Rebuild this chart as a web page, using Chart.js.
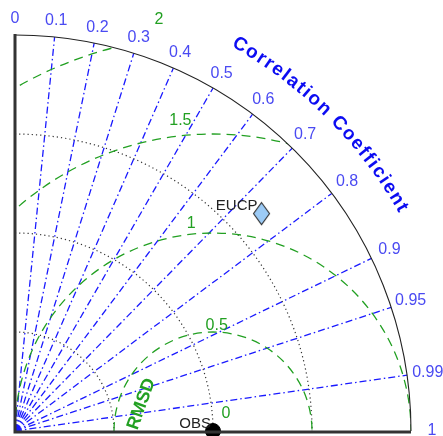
<!DOCTYPE html>
<html>
<head>
<meta charset="utf-8">
<script src="https://cdn.jsdelivr.net/npm/chart.js@4/dist/chart.umd.min.js"></script>
<style>
  html, body { margin: 0; padding: 0; background: #fff; }
  canvas { display: block; }
</style>
</head>
<body>
<canvas id="taylor" width="443" height="436"></canvas>
<script>
// Taylor diagram: standard deviation (radius) vs. correlation (angle)
const corrTicks = [0, 0.1, 0.2, 0.3, 0.4, 0.5, 0.6, 0.7, 0.8, 0.9, 0.95, 0.99, 1];
const corrTickLabels = ['0', '0.1', '0.2', '0.3', '0.4', '0.5', '0.6', '0.7', '0.8', '0.9', '0.95', '0.99', '1'];
const stdArcs = [0.5, 1, 1.5];
const stdMax = 2;
const rmsdLevels = [0.5, 1, 1.5, 2];
const rmsdLabels = ['0.5', '1', '1.5', '2'];
const refName = 'OBS';
const refStd = 1;
const modelNames = ['EUCP'];
const modelStd = [1.66];
const modelCorr = [0.75];

const BLUE_LINE = '#1a1aff';
const BLUE_TEXT = '#4a4af2';
const TITLE_BLUE = '#0c0cf2';
const GREEN = '#22a022';

// polar (std, corr) -> cartesian data coordinates
const toXY = (s, c) => ({ x: s * c, y: s * Math.sqrt(Math.max(0, 1 - c * c)) });

// elongated diamond marker
function diamondMarker() {
  const cv = document.createElement('canvas');
  cv.width = 19; cv.height = 25;
  const g = cv.getContext('2d');
  g.beginPath();
  g.moveTo(9.5, 1.5); g.lineTo(17.5, 12.5); g.lineTo(9.5, 23.5); g.lineTo(1.5, 12.5); g.closePath();
  g.fillStyle = '#9ccbf6'; g.fill();
  g.strokeStyle = '#2a2a2a'; g.lineWidth = 1.1; g.stroke();
  return cv;
}

const taylorGrid = {
  id: 'taylorGrid',
  beforeDatasetsDraw(chart) {
    const { ctx, scales: { x, y } } = chart;
    const ox = x.getPixelForValue(0), oy = y.getPixelForValue(0);
    const rPx = v => x.getPixelForValue(v) - ox;
    const R = rPx(stdMax);
    const pt = (s, c) => { const p = toXY(s, c); return [x.getPixelForValue(p.x), y.getPixelForValue(p.y)]; };

    ctx.save();
    ctx.beginPath();
    ctx.moveTo(ox, oy);
    ctx.arc(ox, oy, R, -Math.PI / 2, 0);
    ctx.closePath();
    ctx.clip();

    // correlation rays
    ctx.strokeStyle = BLUE_LINE; ctx.lineWidth = 1.3; ctx.setLineDash([7, 3, 1.5, 3]);
    corrTicks.forEach(c => {
      if (c <= 0 || c >= 1) return;
      const [ex, ey] = pt(stdMax, c);
      ctx.beginPath(); ctx.moveTo(ox, oy); ctx.lineTo(ex, ey); ctx.stroke();
    });

    // standard deviation arcs
    ctx.strokeStyle = '#333'; ctx.lineWidth = 1.2; ctx.setLineDash([1.2, 3]);
    stdArcs.forEach(s => {
      ctx.beginPath(); ctx.arc(ox, oy, rPx(s), -Math.PI / 2, 0); ctx.stroke();
    });

    // centred RMS difference circles around the reference
    const rx = x.getPixelForValue(refStd);
    ctx.strokeStyle = GREEN; ctx.lineWidth = 1.3; ctx.setLineDash([9, 6]);
    rmsdLevels.forEach(l => {
      ctx.beginPath(); ctx.arc(rx, oy, rPx(l), Math.PI, 2 * Math.PI); ctx.stroke();
    });
    ctx.restore();

    // outer boundary
    ctx.save();
    ctx.strokeStyle = '#222'; ctx.lineWidth = 1.1; ctx.setLineDash([]);
    ctx.beginPath(); ctx.arc(ox, oy, R, -Math.PI / 2, 0); ctx.stroke();
    ctx.restore();
  },
  afterDatasetsDraw(chart) {
    const { ctx, scales: { x, y } } = chart;
    const ox = x.getPixelForValue(0), oy = y.getPixelForValue(0);
    const rPx = v => x.getPixelForValue(v) - ox;
    const R = rPx(stdMax);
    const font = '"Liberation Sans", Arial, sans-serif';

    ctx.save();
    // axes
    ctx.strokeStyle = '#333'; ctx.lineWidth = 3; ctx.lineCap = 'butt';
    ctx.beginPath(); ctx.moveTo(ox, oy - R - 1); ctx.lineTo(ox, oy + 1); ctx.lineTo(ox + R, oy + 1); ctx.stroke();

    // correlation tick labels
    ctx.fillStyle = BLUE_TEXT; ctx.font = '16px ' + font;
    ctx.textAlign = 'center'; ctx.textBaseline = 'middle';
    corrTicks.forEach((c, i) => {
      const th = Math.acos(c);
      const r = R * 1.053 - 5 * Math.sin(th) * Math.sin(th);
      ctx.fillText(corrTickLabels[i], ox + r * Math.cos(th), oy - r * Math.sin(th));
    });

    // curved axis title, first/last glyph centres spread over 60..30 degrees
    const title = 'Correlation Coefficient';
    ctx.font = 'bold 19px ' + font; ctx.fillStyle = TITLE_BLUE;
    const rT = R * 1.128;
    const chars = [...title];
    const widths = chars.map(ch => ctx.measureText(ch).width);
    const span = (29.8 * Math.PI / 180) * rT;
    const core = widths.reduce((a, b) => a + b, 0) - widths[0] / 2 - widths[widths.length - 1] / 2;
    const gap = (span - core) / (chars.length - 1);
    let pos = 0;
    const thStart = 59.8 * Math.PI / 180;
    chars.forEach((ch, i) => {
      if (i > 0) pos += widths[i - 1] / 2 + gap + widths[i] / 2;
      const th = thStart - pos / rT;
      ctx.save();
      ctx.translate(ox + rT * Math.cos(th), oy - rT * Math.sin(th));
      ctx.rotate(Math.PI / 2 - th);
      ctx.fillText(ch, 0, 0);
      ctx.restore();
    });

    // RMSD labels
    const rx = x.getPixelForValue(refStd);
    const labelAngles = [88, 96, 96, 97.5];
    ctx.font = '16px ' + font; ctx.fillStyle = GREEN;
    rmsdLevels.forEach((l, i) => {
      const a = labelAngles[i] * Math.PI / 180;
      const d = rPx(l) * 1.04 + 3;
      ctx.fillText(rmsdLabels[i], rx + d * Math.cos(a), oy - d * Math.sin(a));
    });
    ctx.fillText('0', rx + 13, oy - 17);

    ctx.save();
    ctx.font = 'bold 18px ' + font;
    ctx.translate(x.getPixelForValue(0.639), y.getPixelForValue(0.136));
    ctx.rotate(-70 * Math.PI / 180);
    ctx.fillText('RMSD', 0, 0);
    ctx.restore();

    // point labels
    ctx.font = '15px ' + font; ctx.fillStyle = '#222';
    ctx.textAlign = 'right'; ctx.textBaseline = 'alphabetic';
    ctx.fillText(refName, x.getPixelForValue(refStd) - 2, oy - 3);
    modelNames.forEach((n, i) => {
      const p = toXY(modelStd[i], modelCorr[i]);
      ctx.fillText(n, x.getPixelForValue(p.x) - 4, y.getPixelForValue(p.y) - 4);
    });
    ctx.restore();
  }
};

const marker = diamondMarker();

new Chart(document.getElementById('taylor'), {
  type: 'scatter',
  data: {
    datasets: [
      {
        label: refName,
        data: [toXY(refStd, 1)],
        pointRadius: 7.5,
        pointHoverRadius: 7.5,
        backgroundColor: '#000',
        borderColor: '#000',
        clip: false
      },
      {
        label: modelNames[0],
        data: modelNames.map((n, i) => toXY(modelStd[i], modelCorr[i])),
        pointStyle: marker,
        clip: false
      }
    ]
  },
  options: {
    responsive: false,
    animation: false,
    layout: { autoPadding: false, padding: { left: 15, top: 35, right: 32, bottom: 5 } },
    scales: {
      x: { type: 'linear', min: 0, max: stdMax, display: false },
      y: { type: 'linear', min: 0, max: stdMax, display: false }
    },
    plugins: { legend: { display: false }, tooltip: { enabled: false } }
  },
  plugins: [taylorGrid]
});
</script>
</body>
</html>
